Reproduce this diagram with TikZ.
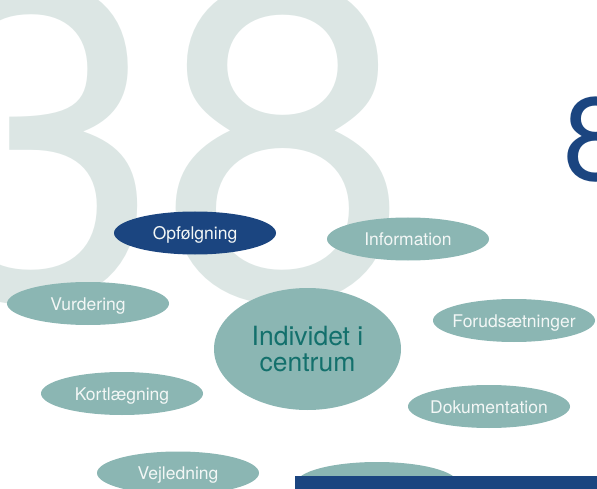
\documentclass[tikz,border=0pt]{standalone}
\usepackage{fontspec}
\setmainfont{TeX Gyre Heros}
\usepackage{tikz}
\usetikzlibrary{shapes.geometric}
\usetikzlibrary{positioning}
\definecolor{fadegrey}{HTML}{DCE6E4}
\definecolor{bubbleteal}{HTML}{8BB6B3}
\definecolor{navyblue}{HTML}{1B4580}
\definecolor{hubtext}{HTML}{13706C}
\definecolor{softwhite}{HTML}{F3F7F6}

\begin{document}
\begin{tikzpicture}[x=1pt, y=-1pt,
	bubble/.style={shape=ellipse, fill=bubbleteal, inner sep=0pt,
	minimum width=162pt, minimum height=43pt,
	label={[text=softwhite, font=\fontsize{17.5}{17.5}\selectfont,
	text height=13pt, text depth=0pt]center:#1}},
	hub/.style={shape=ellipse, fill=bubbleteal, inner sep=0pt,
	minimum width=187pt, minimum height=122pt, align=center,
	text=hubtext, font=\fontsize{26.5}{26.5}\selectfont}]
	\clip (0,0) rectangle (597,489);
	%% the big numbers
	\node [anchor=base west, inner sep=0pt, text=fadegrey,
	font=\fontsize{449}{449}\selectfont] (bignum) at (-90,298.5) {38};
	\node [anchor=base west, inner sep=0pt, text=navyblue,
	font=\fontsize{118}{118}\selectfont] (pagenum) at (563.5,180.8) {8};
	%% the bubbles
	\node [bubble=Opfølgning, fill=navyblue] (opf) at (195,233) {};
	\node [bubble=Information] (info) at (408,239) {};
	\node [bubble=Vurdering] (vurd) at (88,303.5) {};
	\node [bubble=Forudsætninger] (foru) at (514,320.5) {};
	\node [hub] (centre) at (307.5,349) {Individet i\\centrum};
	\node [bubble=Kortlægning] (kort) at (122,393.5) {};
	\node [bubble=Dokumentation] (doku) at (489,406.5) {};
	\node [bubble=Vejledning] (vejl) at (178,473) {};
	\node [bubble=] (hidden) at (377,483.5) {};
	%% bar along the bottom
	\fill [navyblue] (295,476) rectangle (597,489);
\end{tikzpicture}
\end{document}
